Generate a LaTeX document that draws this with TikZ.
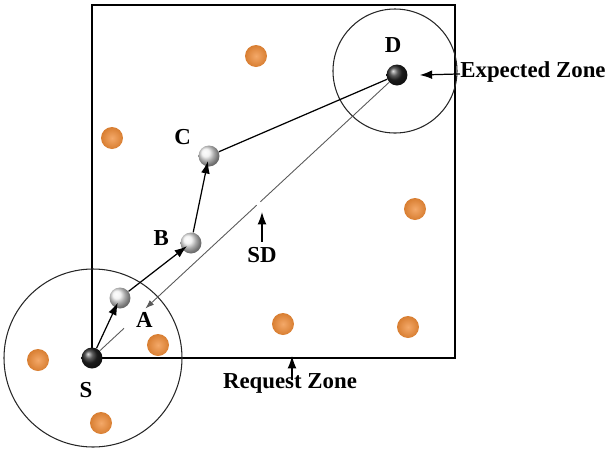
\documentclass[tikz,border=0pt]{standalone}
\usepackage{fontspec}
\setmainfont{Liberation Serif}
\usepackage{xcolor}
\usepackage{tikz}
\usetikzlibrary{arrows.meta, positioning, calc}

\definecolor{dotorange}{RGB}{240,140,55}

\begin{document}
\begin{tikzpicture}[x=0.02cm, y=-0.02cm,
    endpt/.style={circle, inner sep=0pt, minimum size=0.42cm, ball color=black!85},
    hop/.style={circle, inner sep=0pt, minimum size=0.42cm, ball color=gray!12},
    dot/.style={circle, inner sep=0pt, minimum size=0.44cm, shading=radial, inner color=dotorange!75!white, outer color=dotorange!90!black},
    lbl/.style={inner sep=0pt, font=\fontsize{13}{15}\selectfont\bfseries},
    zone/.style={draw=black, line width=0.8pt},
    ring/.style={draw=black!85, line width=0.6pt},
    route/.style={draw=black, line width=0.7pt, -{Latex[length=7pt, width=5pt]}, shorten >=3pt},
    sdline/.style={draw=black!65, line width=0.5pt},
    note/.style={draw=black, line width=0.7pt, -{Latex[length=7pt, width=5pt]}}
]
    \useasboundingbox (0,0) rectangle (606,454);

    % Zones
    \draw [zone] (92,5) rectangle (455,358);
    \draw [ring] (93,358) circle (89);
    \draw [ring] (395,71) circle (62);

    % Other nodes
    \foreach \x/\y [count=\i] in {256/56, 112/138, 415/209, 283/324, 408/327, 158/345, 38/360, 101/423}
        \node [dot] (n\i) at (\x,\y) {};

    % Route nodes
    \node [endpt] (S) at (92,358) {};
    \node [endpt] (D) at (397,75) {};
    \node [hop] (A) at (120,298) {};
    \node [hop] (B) at (191,243) {};
    \node [hop] (C) at (209,156) {};

    \node [lbl, below=0.26cm of S, xshift=-0.12cm] {S};
    \node [lbl, above=0.22cm of D, xshift=-0.08cm] {D};
    \node [lbl, above left=0.06cm and 0.2cm of C] {C};
    \node [lbl, left=0.22cm of B, yshift=0.1cm] {B};
    \node [lbl, below right=0.12cm and 0.16cm of A] {A};

    % Direct line S-D
    \coordinate (sd1) at ($(S)!0.105!(D)$);
    \coordinate (sd2) at ($(S)!0.175!(D)$);
    \coordinate (sd3) at ($(S)!0.54!(D)$);
    \coordinate (sd4) at ($(S)!0.552!(D)$);
    \path [sdline] (S) -- (sd1);
    \path [sdline, -{Latex[length=5pt, width=3.5pt]}] (sd3) -- (sd2);
    \path [sdline] (sd4) -- (D);

    % Route S-A-B-C-D
    \path [route] (S) -- (A.center);
    \path [route] (A) -- (B.center);
    \path [route] (B) -- (C.center);
    \path [draw=black, line width=0.7pt] (C) -- (D);

    % Annotations
    \node [lbl] (sdl) at (262,255) {SD};
    \coordinate (sdtip) at (262,212);
    \path [note, shorten <=3pt] (sdl) -- (sdtip);

    \coordinate [right=0.24cm of D] (eztip);
    \node [lbl, anchor=west] (ez) at (460,72) {Expected Zone};
    \path [note] (ez) -- (eztip);

    \node [lbl] (rz) at (290,383) {Request Zone};
    \coordinate (rztip) at (292,356);
    \path [note, shorten <=-0.15cm] (rz.north -| rztip) -- (rztip);
\end{tikzpicture}
\end{document}
